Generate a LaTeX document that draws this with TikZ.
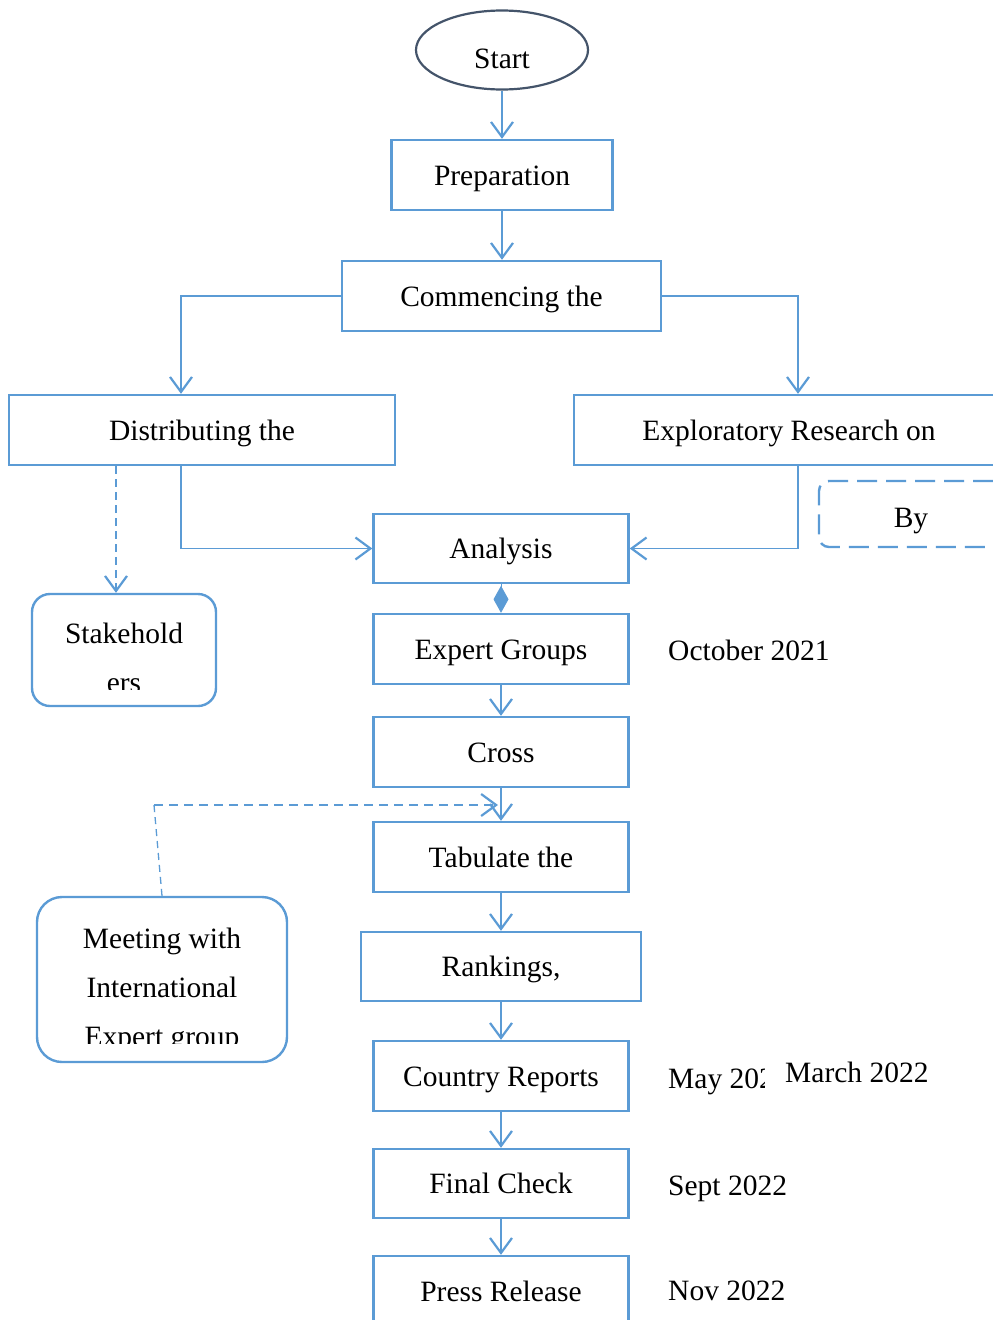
\documentclass[tikz,border=0pt]{standalone}
\usepackage{fontspec}
\setmainfont{Liberation Serif}
\usetikzlibrary{arrows.meta,shapes.geometric}
\definecolor{bl}{HTML}{5B9BD5}
\definecolor{dk}{HTML}{44546A}
\begin{document}
\begin{tikzpicture}[x=1pt,y=-1pt,
  txt/.style={font=\fontsize{29.5}{32}\selectfont,inner sep=0pt},
  box/.style={draw=bl,line width=2.4pt,rectangle,inner sep=0pt,txt,text height=20pt,text depth=0pt,minimum height=70pt},
  rbox/.style={draw=bl,line width=2.4pt,rectangle,rounded corners=#1,inner sep=0pt},
  arr/.style={draw=bl,line width=2.2pt,-{Straight Barb[length=15pt,width=22pt,line width=2.2pt]}},
  elb/.style={arr,line width=1.6pt},
  dsh/.style={dash pattern=on 8pt off 5pt},
  date/.style={txt,anchor=base west},
  ln/.style={txt,anchor=base}]
\useasboundingbox (0,0) rectangle (993,1320);
\clip (0,0) rectangle (993,1320);
% nodes
\node[ellipse,draw=dk,line width=2.2pt,minimum width=172pt,minimum height=79pt,inner sep=0pt,txt,text height=20pt,text depth=0pt] (start) at (502,50) {\raisebox{-8pt}{Start}};
\node[box,minimum width=221pt] (prep) at (502,175) {Preparation};
\node[box,minimum width=319pt] (comm) at (501.5,296) {Commencing the};
\node[box,minimum width=386pt] (dist) at (202,430) {Distributing the};
\node[box,minimum width=430pt] (expl) at (789,430) {Exploratory Research on};
\node[box,minimum width=255pt,minimum height=69pt] (ana) at (501,548.5) {Analysis};
\node[box,minimum width=255pt] (exp) at (501,649) {Expert Groups};
\node[box,minimum width=255pt] (cross) at (501,752) {Cross};
\node[box,minimum width=255pt] (tab) at (501,857) {Tabulate the};
\node[box,minimum width=280pt,minimum height=69pt] (rank) at (501,966.5) {Rankings,};
\node[box,minimum width=255pt] (ctry) at (501,1076) {Country Reports};
\node[box,minimum width=255pt,minimum height=69pt] (fin) at (501,1183.5) {Final Check};
\node[box,minimum width=255pt] (press) at (501,1291) {Press Release};
\node[rbox=18pt,minimum width=184pt,minimum height=112pt] (stake) at (124,650) {};
\node[rbox=25pt,minimum width=250pt,minimum height=165pt] (meet) at (162,979.5) {};
\node[rbox=10pt,dash pattern=on 20pt off 9pt,minimum width=184pt,minimum height=66pt,txt,text height=20pt,text depth=0pt] (by) at (911,514) {\raisebox{-3pt}{By}};
\begin{scope}
\clip (30,600) rectangle (220,689);
\node[ln] (stk1) at (124,643) {Stakehold};
\node[ln] (stk2) at (124,692) {ers};
\end{scope}
\begin{scope}
\clip (40,905) rectangle (285,1043);
\node[ln] (m1) at (162,948) {Meeting with};
\node[ln] (m2) at (162,997) {International};
\node[ln] (m3) at (162,1046) {Expert group};
\end{scope}
% dates
\node[date] (d1) at (668,660) {October 2021};
\begin{scope}
\clip (660,1050) rectangle (764,1110);
\node[date] (d2) at (668,1088) {May 2022};
\end{scope}
\node[date] (d3) at (785,1082) {March 2022};
\node[date] (d4) at (668,1195) {Sept 2022};
\node[date] (d5) at (668,1300) {Nov 2022};
% connectors
\draw[arr] (start.south) -- (start.south |- prep.north);
\draw[arr] (prep.south) -- (prep.south |- comm.north);
\draw[elb] (comm.west) -| ([xshift=-21pt]dist.north);
\draw[elb] (comm.east) -| ([xshift=9pt]expl.north);
\draw[arr,dsh] ([xshift=-86pt]dist.south) -- ([xshift=-86pt]dist.south |- stake.north);
\draw[elb] ([xshift=-21pt]dist.south) |- (ana.west);
\draw[elb] ([xshift=9pt]expl.south) |- (ana.east);
\draw[bl,line width=1pt,-{Diamond[length=27pt,width=15pt,fill=bl]}] (ana.south) -- (exp.north);
\draw[arr] (exp) -- (cross);
\draw[arr] (cross) -- (tab);
\draw[arr] (tab) -- (rank);
\draw[arr] (rank) -- (ctry);
\draw[arr] (ctry) -- (fin);
\draw[arr] (fin) -- (press);
\coordinate (mc) at (154,805);
\coordinate (me) at (498,805);
\draw[bl,line width=1.3pt,dash pattern=on 7pt off 5pt] (meet.north) -- (mc);
\draw[arr,dash pattern=on 9pt off 6pt] (mc) -- (me);
\end{tikzpicture}
\end{document}
